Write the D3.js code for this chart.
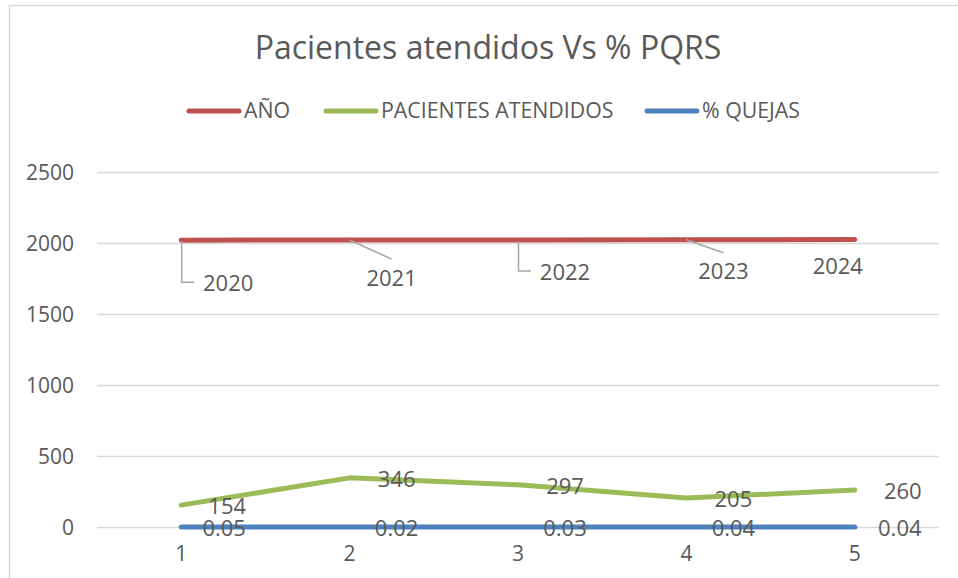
<!DOCTYPE html>
<html><head><meta charset="utf-8">
<script src="https://cdn.jsdelivr.net/npm/d3@7"></script>
<style>
html,body{margin:0;padding:0;background:#fff;}
text{font-family:"Open Sans",Lato,sans-serif;fill:#595959;}
</style></head>
<body><svg id="c" width="958" height="578"></svg>
<script>
const categories = [1, 2, 3, 4, 5];
const anio = [2020, 2021, 2022, 2023, 2024];
const pacientes = [154, 346, 297, 205, 260];
const quejas = [0.05, 0.02, 0.03, 0.04, 0.04];
const yTicks = [0, 500, 1000, 1500, 2000, 2500];
const seriesNames = ["AÑO", "PACIENTES ATENDIDOS", "% QUEJAS"];
const seriesColors = ["#c0504d", "#9bbb59", "#4f81bd"];
const title = "Pacientes atendidos Vs % PQRS";

const svg = d3.select("#c");
// outer border
svg.append("rect").attr("x", 9.5).attr("y", 5.5).attr("width", 1000).attr("height", 1000)
  .attr("fill", "none").attr("stroke", "#d9d9d9").attr("stroke-width", 1.5);

const x = d3.scaleBand().domain(categories).range([97, 939]);
const xc = d => x(d) + x.bandwidth() / 2;
const y = d3.scaleLinear().domain([0, 2500]).range([527, 172]);

// gridlines
svg.append("g").selectAll("line").data(yTicks).join("line")
  .attr("x1", 97).attr("x2", 939)
  .attr("y1", d => y(d) + 0.5).attr("y2", d => y(d) + 0.5)
  .attr("stroke", "#d9d9d9").attr("stroke-width", 1.3);

// y axis labels
const yAxis = d3.axisLeft(y).tickValues(yTicks).tickSize(0).tickPadding(23).tickFormat(d3.format("d"));
const gy = svg.append("g").attr("transform", "translate(97,0)").call(yAxis);
gy.select(".domain").remove();
gy.selectAll("text").style("font-size", "21px").attr("fill", "#595959").attr("font-family", null).attr("dy", "0.35em");

// x axis labels
const xAxis = d3.axisBottom(x).tickSize(0).tickPadding(19);
const gx = svg.append("g").attr("transform", "translate(0,527)").call(xAxis);
gx.select(".domain").remove();
gx.selectAll("text").style("font-size", "21px").attr("fill", "#595959").attr("font-family", null);

// title
svg.append("text").attr("x", 488).attr("y", 59).attr("text-anchor", "middle")
  .style("font-size", "32px").text(title);

// legend
const legendX = [187, 324, 645];
const lg = svg.append("g");
seriesNames.forEach((n, i) => {
  lg.append("line").attr("x1", legendX[i] + 2).attr("x2", legendX[i] + 52).attr("y1", 111).attr("y2", 111)
    .attr("stroke", seriesColors[i]).attr("stroke-width", 5).attr("stroke-linecap", "round");
  lg.append("text").attr("x", legendX[i] + 57).attr("y", 111).attr("dy", "0.35em").style("font-size", "21.3px").text(n);
});

const line = d3.line().x((d, i) => xc(categories[i])).y(d => y(d));
[anio, pacientes, quejas].forEach((s, i) => {
  svg.append("path").datum(s).attr("d", line).attr("fill", "none")
    .attr("stroke", seriesColors[i]).attr("stroke-width", 5).attr("stroke-linecap", "round").attr("stroke-linejoin", "round");
});

// data label offsets relative to each point
const anioOff = [[47, 43], [42, 38], [47, 32], [37, 32], [-17, 27]];
const pacOff = [[46, 1], [47, 1], [47, 1], [47, 1], [48, 1]];
const quejasOff = [[43, 1], [47, 1], [47, 1], [47, 1], [45, 1]];

// leader lines for AÑO labels
const leader = svg.append("g").attr("stroke", "#a6a6a6").attr("stroke-width", 1.5).attr("fill", "none");
anio.forEach((v, i) => {
  const px = xc(categories[i]), py = y(v);
  if (i === 0 || i === 2) {
    leader.append("path").attr("d", `M${px + 0.5},${py + 1}V${py + anioOff[i][1] - 1}H${px + 13}`);
  } else if (i === 1 || i === 3) {
    leader.append("line").attr("x1", px).attr("y1", py).attr("x2", px + anioOff[i][0]).attr("y2", py + (i === 1 ? 19 : 13));
  }
});

function labels(s, off, fmt) {
  svg.append("g").selectAll("text").data(s).join("text")
    .attr("x", (d, i) => xc(categories[i]) + off[i][0])
    .attr("y", (d, i) => y(d) + off[i][1])
    .attr("dy", "0.35em")
    .attr("text-anchor", "middle")
    .style("font-size", "22px").text(fmt);
}
labels(anio, anioOff, d => d);
labels(pacientes, pacOff, d => d);
labels(quejas, quejasOff, d => d3.format(".2f")(d));
</script></body></html>
